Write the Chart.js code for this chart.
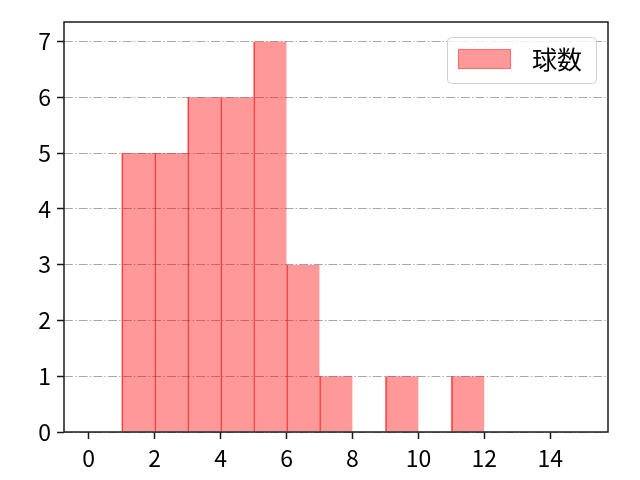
<!DOCTYPE html>
<html>
<head>
<meta charset="utf-8">
<script src="https://cdn.jsdelivr.net/npm/chart.js@4"></script>
<style>
  html, body { margin: 0; padding: 0; background: #fff; }
  #wrap { width: 640px; height: 480px; }
</style>
</head>
<body>
<div id="wrap"><canvas id="myChart" width="640" height="480"></canvas></div>
<script>
// bin centres (bins 0..15, width 1) and counts
const binCenters = [0.5, 1.5, 2.5, 3.5, 4.5, 5.5, 6.5, 7.5, 8.5, 9.5, 10.5, 11.5, 12.5, 13.5, 14.5];
const counts = [0, 5, 5, 6, 6, 7, 3, 1, 0, 1, 0, 1, 0, 0, 0];
const xTicks = [0, 2, 4, 6, 8, 10, 12, 14];
const yTicks = [0, 1, 2, 3, 4, 5, 6, 7];
const seriesLabel = '球数';

const FONT = '"Noto Sans CJK JP", "Noto Sans", sans-serif';

// spines round the plot area
const frame = {
    id: 'frame',
    afterDatasetsDraw(chart) {
        const a = chart.chartArea;
        const ctx = chart.ctx;
        ctx.save();
        ctx.strokeStyle = '#1a1a1a';
        ctx.lineWidth = 1.5;
        ctx.strokeRect(a.left, a.top, a.right - a.left, a.bottom - a.top);
        ctx.restore();
    }
};

// matplotlib-like legend box in the top right corner
const boxLegend = {
    id: 'boxLegend',
    afterDraw(chart) {
        const ctx = chart.ctx;
        const ds = chart.data.datasets[0];
        const x = 447, y = 37, w = 149, h = 46, r = 4;
        ctx.save();
        ctx.fillStyle = 'rgba(255,255,255,0.8)';
        ctx.strokeStyle = '#d0d0d0';
        ctx.lineWidth = 1;
        ctx.beginPath();
        ctx.roundRect(x + 0.5, y + 0.5, w, h, r);
        ctx.fill();
        ctx.stroke();
        ctx.fillStyle = ds.backgroundColor;
        ctx.fillRect(458, 49, 53, 20);
        ctx.strokeStyle = 'rgba(255, 0, 0, 0.3)';
        ctx.strokeRect(458.5, 49.5, 52, 19);
        ctx.fillStyle = '#000';
        ctx.font = '25px ' + FONT;
        ctx.textBaseline = 'middle';
        ctx.fillText(ds.label, 532, 59);
        ctx.restore();
    }
};

const ctx = document.getElementById('myChart').getContext('2d');
new Chart(ctx, {
    type: 'bar',
    data: {
        datasets: [{
            label: seriesLabel,
            data: binCenters.map((c, i) => ({ x: c, y: counts[i] })),
            backgroundColor: 'rgba(255, 0, 0, 0.4)',
            borderColor: 'rgba(255, 0, 0, 0.7)',
            borderWidth: { top: 0, left: 1, right: 0, bottom: 0 },
            borderSkipped: false,
            barPercentage: 1,
            categoryPercentage: 1
        }]
    },
    options: {
        responsive: false,
        animation: false,
        devicePixelRatio: 1,
        layout: { padding: { left: 0, top: 22, right: 32, bottom: 0 } },
        plugins: {
            legend: { display: false },
            tooltip: { enabled: false }
        },
        scales: {
            x: {
                type: 'linear',
                offset: false,
                min: -0.75,
                max: 15.75,
                afterBuildTicks: s => { s.ticks = xTicks.map(v => ({ value: v })); },
                afterFit: s => { s.height = 48; },
                grid: {
                    offset: false,
                    drawOnChartArea: false,
                    drawTicks: true,
                    tickLength: 7,
                    tickWidth: 1.5,
                    tickColor: '#1a1a1a'
                },
                border: { display: false },
                ticks: {
                    color: '#000',
                    padding: 5,
                    maxRotation: 0,
                    autoSkip: false,
                    font: { family: FONT, size: 23 }
                }
            },
            y: {
                min: 0,
                max: 7.35,
                afterBuildTicks: s => { s.ticks = yTicks.map(v => ({ value: v })); },
                afterFit: s => { s.width = 64; },
                grid: {
                    color: '#a8a8a8',
                    lineWidth: 1,
                    drawTicks: true,
                    tickLength: 7,
                    tickWidth: 1.5,
                    tickColor: '#1a1a1a',
                    tickBorderDash: []
                },
                border: { display: false, dash: [8.9, 2.2, 1.4, 2.2] },
                ticks: {
                    color: '#000',
                    padding: 6,
                    font: { family: FONT, size: 23 }
                }
            }
        }
    },
    plugins: [frame, boxLegend]
});
</script>
</body>
</html>
